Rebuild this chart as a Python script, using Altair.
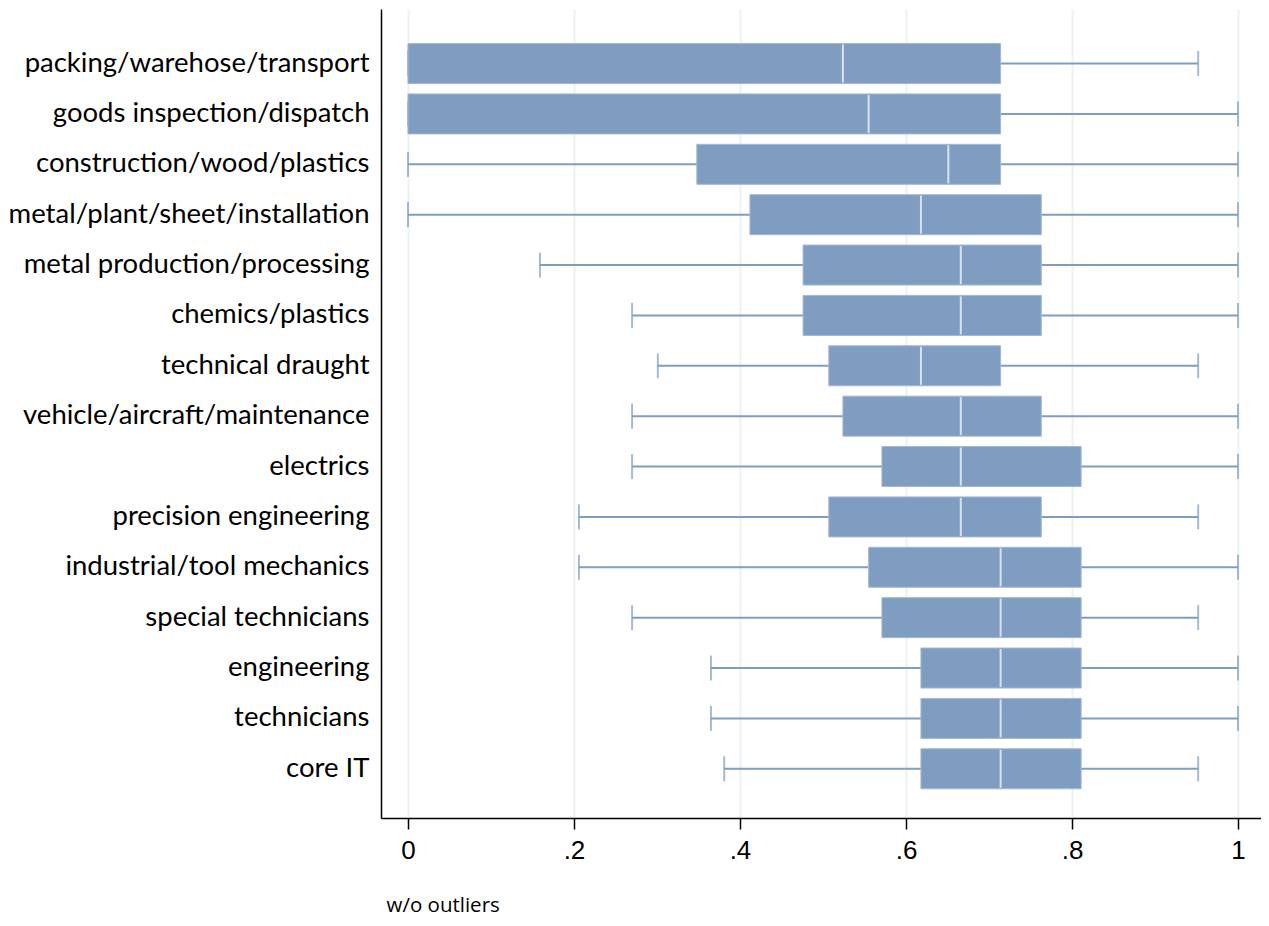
import altair as alt
import pandas as pd

categories = [
    "packing/warehose/transport",
    "goods inspection/dispatch",
    "construction/wood/plastics",
    "metal/plant/sheet/installation",
    "metal production/processing",
    "chemics/plastics",
    "technical draught",
    "vehicle/aircraft/maintenance",
    "electrics",
    "precision engineering",
    "industrial/tool mechanics",
    "special technicians",
    "engineering",
    "technicians",
    "core IT",
]
lower = [0.0, 0.0, 0.0, 0.0, 0.159, 0.270, 0.301, 0.270, 0.270, 0.206, 0.206, 0.270, 0.365, 0.365, 0.381]
q1 = [0.0, 0.0, 0.348, 0.412, 0.476, 0.476, 0.507, 0.524, 0.571, 0.507, 0.555, 0.571, 0.618, 0.618, 0.618]
median = [0.524, 0.555, 0.651, 0.618, 0.666, 0.666, 0.618, 0.666, 0.666, 0.666, 0.714, 0.714, 0.714, 0.714, 0.714]
q3 = [0.714, 0.714, 0.714, 0.763, 0.763, 0.763, 0.714, 0.763, 0.811, 0.763, 0.811, 0.811, 0.811, 0.811, 0.811]
upper = [0.952, 1.0, 1.0, 1.0, 1.0, 1.0, 0.952, 1.0, 1.0, 0.952, 1.0, 0.952, 1.0, 1.0, 0.952]
x_ticks = [0, 0.2, 0.4, 0.6, 0.8, 1]

df = pd.DataFrame({"cat": categories, "lower": lower, "q1": q1, "median": median, "q3": q3, "upper": upper})

BOX = "#7f9dc1"

xscale = alt.Scale(domain=[-0.0325, 1.0277], nice=False, zero=False)
yscale = alt.Scale(domain=categories, paddingOuter=0.53, paddingInner=0, align=0.55)

xaxis = alt.Axis(
    values=x_ticks,
    labelExpr="datum.value == 0 ? '0' : (datum.value == 1 ? '1' : replace(format(datum.value, '.1f'), '0.', '.'))",
    grid=True, gridColor="#eaf2f3", gridWidth=2,
    domainColor="black", domainWidth=1.5,
    tickColor="black", tickWidth=1.5, tickSize=11,
    labelFont="Liberation Sans", labelFontSize=26, labelColor="black", labelPadding=8,
    title="w/o outliers", titleFont="Open Sans", titleFontSize=20.5, titleFontWeight="normal",
    titleColor="black", titleAnchor="start", titleAlign="left", titleX=5, titleY=93,
    titleBaseline="alphabetic",
)
yaxis = alt.Axis(
    title=None, ticks=False, grid=False,
    domainColor="black", domainWidth=1.5,
    labelFont="Lato", labelFontSize=27.5, labelColor="black", labelPadding=12,
    labelLimit=500,
)

base = alt.Chart(df)

whisk = base.mark_rule(color=BOX, strokeWidth=2).encode(
    x=alt.X("lower:Q", scale=xscale, axis=xaxis),
    x2="upper:Q",
    y=alt.Y("cat:N", scale=yscale, axis=yaxis, sort=categories),
)
cap_lo = base.mark_tick(color=BOX, thickness=2, size=25, orient="vertical").encode(
    x=alt.X("lower:Q", scale=xscale), y=alt.Y("cat:N", scale=yscale, sort=categories)
)
cap_hi = base.mark_tick(color=BOX, thickness=2, size=25, orient="vertical").encode(
    x=alt.X("upper:Q", scale=xscale), y=alt.Y("cat:N", scale=yscale, sort=categories)
)
box = base.mark_bar(color=BOX, size=40, stroke="#a3b8d3", strokeWidth=1).encode(
    x=alt.X("q1:Q", scale=xscale), x2="q3:Q", y=alt.Y("cat:N", scale=yscale, sort=categories)
)
med = base.mark_tick(color="white", thickness=2, size=38, orient="vertical").encode(
    x=alt.X("median:Q", scale=xscale), y=alt.Y("cat:N", scale=yscale, sort=categories)
)

chart = alt.layer(whisk, cap_lo, cap_hi, box, med).properties(
    width=880, height=809,
    autosize=alt.AutoSizeParams(type="none"),
    padding={"left": 373, "top": 1, "right": 0, "bottom": 100},
).configure(background="white").configure_view(stroke=None)

chart.save("out.html", embed_options={"renderer": "svg", "actions": False})
